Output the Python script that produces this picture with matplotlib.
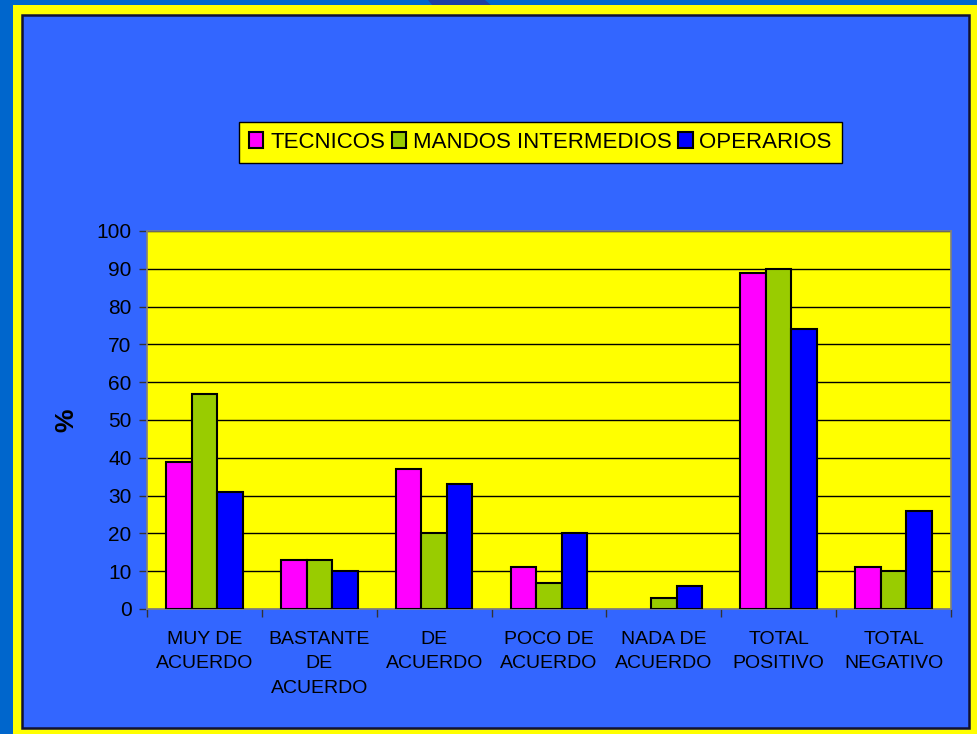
import matplotlib
matplotlib.use('Agg')
import numpy as np
import matplotlib.pyplot as plt
from matplotlib.patches import Rectangle, Polygon

plt.rcParams['font.family'] = ['Liberation Sans', 'DejaVu Sans']

categories = ['MUY DE\nACUERDO', 'BASTANTE\nDE\nACUERDO', 'DE\nACUERDO', 'POCO DE\nACUERDO',
              'NADA DE\nACUERDO', 'TOTAL\nPOSITIVO', 'TOTAL\nNEGATIVO']
tecnicos = [39, 13, 37, 11, 0, 89, 11]
mandos = [57, 13, 20, 7, 3, 90, 10]
operarios = [31, 10, 33, 20, 6, 74, 26]
series_names = ['TECNICOS', 'MANDOS INTERMEDIOS', 'OPERARIOS']
series_colors = ['#FF00FF', '#99CC00', '#0000FF']

W, H = 977, 734
fig = plt.figure(figsize=(W / 100, H / 100), dpi=100, facecolor='#0066CC')


def px(x, y):
    # pixel position (from top-left) -> figure fraction
    return (x / W, 1 - y / H)


# slide decoration: yellow frame, blue panel, dark shape at the top
fig.add_artist(Polygon([px(428, 0), px(485, 0), px(492, 6), px(433, 6)], closed=True,
                       transform=fig.transFigure, facecolor='#1F3FA0', edgecolor='none',
                       zorder=-4))
fig.add_artist(Rectangle(px(13, 734), (W - 13) / W, (734 - 5) / H, transform=fig.transFigure,
                         facecolor='#FFFF00', edgecolor='none', zorder=-3))
fig.add_artist(Rectangle(px(22, 728), (969 - 22) / W, (728 - 15) / H, transform=fig.transFigure,
                         facecolor='#3366FF', edgecolor='#111133', linewidth=1.8, zorder=-2))

ax = fig.add_axes([147 / W, 1 - 609 / H, 804 / W, 378 / H])
ax.set_zorder(2)
ax.set_facecolor('#FFFF00')

x = np.arange(len(categories))
w = 0.222
bars = []
for i, (vals, name, col) in enumerate(zip([tecnicos, mandos, operarios], series_names, series_colors)):
    lw = [1.5 if v > 0 else 0 for v in vals]
    b = ax.bar(x + (i - 1) * w, vals, w, color=col, edgecolor='black', linewidth=lw,
               label=name, zorder=3)
    bars.append(b)

ax.set_xlim(-0.5, len(categories) - 0.5)
ax.set_ylim(0, 100)
ax.set_yticks(range(0, 101, 10))
ax.yaxis.grid(True, color='black', linewidth=1)
ax.set_axisbelow(True)

ax.set_xticks(x)
ax.set_xticklabels(categories, fontsize=14, linespacing=1.55)
ax.set_xticks(np.arange(-0.5, len(categories), 1), minor=True)
ax.tick_params(axis='x', which='major', length=0, pad=16)
ax.tick_params(axis='x', which='minor', length=6, color='#333333', width=1)
ax.tick_params(axis='y', length=6, color='#333333', width=1, labelsize=15, pad=5)

for s in ax.spines.values():
    s.set_color('#7f7f7f')
    s.set_linewidth(1.2)

ax.set_ylabel('%', fontsize=19, fontweight='bold', labelpad=13)

leg = fig.legend(handles=[b[0] for b in bars], labels=series_names, loc='upper left',
                 bbox_to_anchor=px(239, 122), ncol=3,
                 fontsize=16, frameon=True, fancybox=False, edgecolor='black',
                 facecolor='#FFFF00', framealpha=1, borderpad=0.45, handlelength=0.65,
                 handleheight=0.75, handletextpad=0.3, columnspacing=0.3, borderaxespad=0)
leg.set_zorder(5)
for h in leg.legend_handles:
    h.set_linewidth(1.5)

fig.savefig('out.png', dpi=100, facecolor=fig.get_facecolor())
